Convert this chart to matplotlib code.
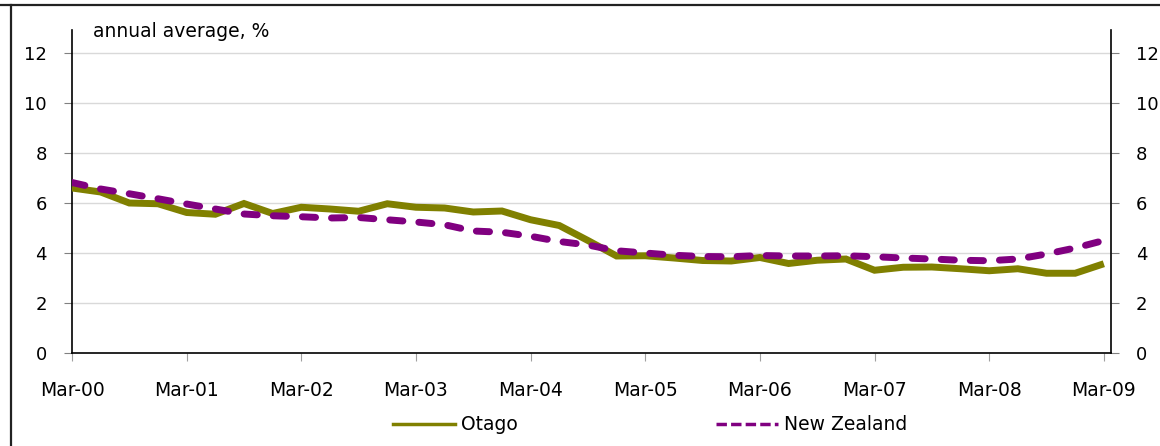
import matplotlib
matplotlib.use("Agg")
import matplotlib.pyplot as plt
from matplotlib.lines import Line2D
import numpy as np

# ---- data ----
tick_labels = ["Mar-00", "Mar-01", "Mar-02", "Mar-03", "Mar-04",
               "Mar-05", "Mar-06", "Mar-07", "Mar-08", "Mar-09"]
otago = [6.60, 6.44, 6.00, 5.97, 5.62, 5.55, 5.98, 5.58, 5.83, 5.76,
         5.67, 5.97, 5.83, 5.80, 5.64, 5.68, 5.33, 5.10, 4.50, 3.88,
         3.89, 3.80, 3.70, 3.68, 3.82, 3.58, 3.71, 3.76, 3.31, 3.43,
         3.44, 3.37, 3.29, 3.37, 3.19, 3.19, 3.57]
new_zealand = [6.82, 6.56, 6.37, 6.17, 5.96, 5.76, 5.56, 5.49, 5.45, 5.40,
               5.42, 5.33, 5.24, 5.13, 4.88, 4.83, 4.67, 4.46, 4.32, 4.09,
               4.00, 3.91, 3.86, 3.85, 3.90, 3.88, 3.88, 3.89, 3.85, 3.80,
               3.76, 3.71, 3.69, 3.76, 3.96, 4.20, 4.50]
series_names = ["Otago", "New Zealand"]
y_ticks = [0, 2, 4, 6, 8, 10, 12]
y_title = "annual average, %"

OLIVE = "#808000"
PURPLE = "#800080"
FS = 13.5

plt.rcParams["font.family"] = ["DejaVu Sans"]

fig = plt.figure(figsize=(11.6, 4.46), dpi=100)
ax = fig.add_axes([72/1160, 1-353/446, (1111-72)/1160, (353-30)/446])

q = np.arange(len(otago))
ax.plot(q, otago, color=OLIVE, lw=5, solid_capstyle="butt", solid_joinstyle="miter", zorder=3)
ax.plot(q, new_zealand, color=PURPLE, lw=5, ls=(0, (1.9, 2.3)),
        dash_capstyle="round", zorder=4)

ax.set_xlim(0, 36.25)
ax.set_ylim(0, 12.92)
ax.set_xticks(np.arange(0, 37, 4))
ax.set_xticklabels(tick_labels, fontsize=FS)
ax.set_yticks(y_ticks)
ax.set_yticklabels([str(v) for v in y_ticks])

for v in y_ticks[1:]:
    ax.axhline(v, color="#d9d9d9", lw=1, zorder=1)

for s in ["left", "right", "bottom"]:
    ax.spines[s].set_color("black")
    ax.spines[s].set_linewidth(1.2)
ax.spines["top"].set_visible(False)

ax.tick_params(axis="x", direction="out", length=6, color="#a0a0a0", pad=14)
ax.tick_params(axis="y", which="both", left=True, right=True,
               labelleft=True, labelright=True, labelsize=13)
ax.yaxis.set_tick_params(which="major", direction="out", length=6, color="#808080")
for t in ax.yaxis.get_major_ticks():
    t.tick1line.set_markersize(6)
    t.tick2line.set_markersize(6)
    t.set_pad(12)

fig.text(93/1160, 1-37/446, y_title, fontsize=FS, ha="left", va="baseline")

handles = [Line2D([], [], color=OLIVE, lw=2.5),
           Line2D([], [], color=PURPLE, lw=2.5, ls=(0, (3, 1.2)))]
fig.legend(handles, series_names, loc="center", bbox_to_anchor=(650/1160, 1-425/446),
           ncol=2, frameon=False, fontsize=FS, handlelength=3.3, handletextpad=0.3,
           columnspacing=10.6)

# outer frame lines (chart border)
fig.add_artist(Line2D([0, 1], [1-4.5/446, 1-4.5/446], transform=fig.transFigure,
                      color="#222222", lw=1.6))
fig.add_artist(Line2D([11/1160, 11/1160], [0, 1-4.5/446], transform=fig.transFigure,
                      color="#222222", lw=1.6))

fig.savefig("out.png", dpi=100)
